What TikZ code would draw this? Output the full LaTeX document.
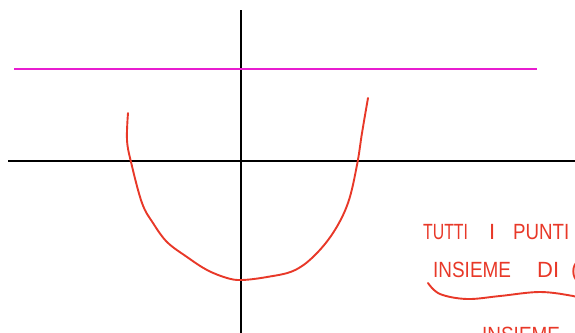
\documentclass[tikz,border=0pt]{standalone}
\usepackage{fontspec}
\setmainfont{Liberation Sans}
\definecolor{pen}{RGB}{232,56,40}
\definecolor{mag}{RGB}{232,28,208}
\begin{document}
\begin{tikzpicture}[x=1pt,y=-1pt,
  axis/.style={black,line width=1.9pt},
  hline/.style={mag,line width=1.9pt},
  redpen/.style={pen,line width=1.9pt,line cap=round,line join=round},
  hw/.style={inner sep=0pt,anchor=base west,text=pen,font=\fontsize{22}{22}\selectfont}]
\useasboundingbox (0,0) rectangle (575,332);
\clip (0,0) rectangle (575,332);
\fill[white] (0,0) rectangle (575,332);
% axes
\coordinate (vt) at (241,10);
\coordinate (vb) at (241,335);
\coordinate (hl) at (8,161);
\coordinate (hr) at (578,161);
\draw[axis] (vt) -- (vb);
\draw[axis] (hl) -- (hr);
% magenta line
\coordinate (ml) at (14,69);
\coordinate (mr) at (537,69);
\draw[hline] (ml) -- (mr);
% red curve
\draw[redpen] plot[smooth,tension=0.6] coordinates {(128,113) (127,140) (131,162) (142,203) (153,223) (167,242) (187,257) (207,270) (227,278) (242,280) (267,277) (293,271) (313,257) (333,233) (348,203) (357,165) (362,133) (368,98)};
% handwritten text
\node[hw] (t1) at (423,239) {\scalebox{0.72}[1]{TUTTI}};
\node[hw] (t2) at (489,239) {I};
\node[hw] (t3) at (513,239) {\scalebox{0.85}[1]{PUNTI}};
\node[hw] (t4) at (433,277) {\scalebox{0.86}[1]{INSIEME}};
\node[hw] (t5) at (537,277) {DI};
\node[hw] (t6) at (571,277) {(};
\node[hw] (t7) at (482,342) {\scalebox{0.86}[1]{INSIEME}};
\draw[redpen] plot[smooth,tension=0.6] coordinates {(428,283) (440,294) (467,299) (500,296) (540,292) (573,296) (580,299)};
\end{tikzpicture}
\end{document}
